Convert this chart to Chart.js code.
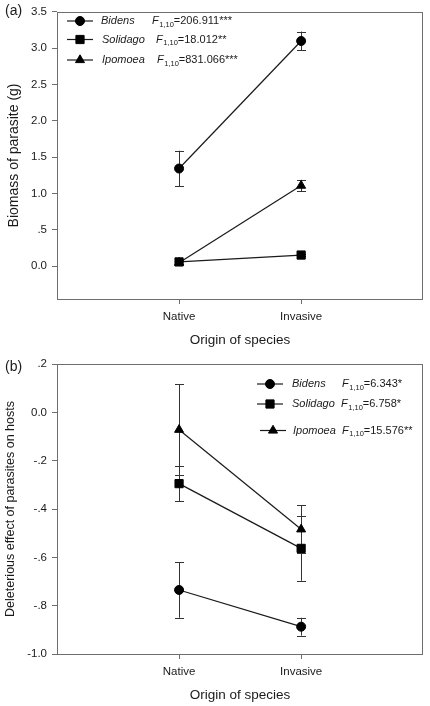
<!DOCTYPE html>
<html>
<head>
<meta charset="utf-8">
<title>Parasite biomass and deleterious effect by origin of species</title>
<script src="https://cdn.jsdelivr.net/npm/chart.js@4"></script>
<style>
    html, body { margin: 0; padding: 0; background: #fff; }
    .panel { position: absolute; left: 0; width: 430px; }
    #panelA { top: 0; height: 350px; }
    #panelB { top: 350px; height: 356px; }
</style>
</head>
<body>
<div class="panel" id="panelA"><canvas id="chartA"></canvas></div>
<div class="panel" id="panelB"><canvas id="chartB"></canvas></div>
<script>
/**
 * Two panels: (a) parasite biomass, (b) deleterious effect on hosts
 */

// categories (x axis)
const categories = ['Native', 'Invasive'];
const speciesNames = ['Bidens', 'Solidago', 'Ipomoea'];
const speciesStyles = ['circle', 'rect', 'triangle'];
const speciesRadius = [4.5, 5.8, 5.2];

// panel (a) - biomass of parasite (g), mean and SE
const biomassBidens = [1.345, 3.10];
const biomassBidensSE = [0.245, 0.13];
const biomassSolidago = [0.06, 0.155];
const biomassSolidagoSE = [0.03, 0.02];
const biomassIpomoea = [0.05, 1.11];
const biomassIpomoeaSE = [0.02, 0.08];
const fStatsA = ['206.911***', '18.012**', '831.066***'];
const yTicksA = [0, 0.5, 1.0, 1.5, 2.0, 2.5, 3.0, 3.5];
const yTickLabelsA = ['0.0', '.5', '1.0', '1.5', '2.0', '2.5', '3.0', '3.5'];

// panel (b) - deleterious effect of parasites on hosts, mean and SE
const effectBidens = [-0.735, -0.887];
const effectBidensSE = [0.115, 0.037];
const effectSolidago = [-0.295, -0.563];
const effectSolidagoSE = [0.072, 0.134];
const effectIpomoea = [-0.072, -0.484];
const effectIpomoeaSE = [0.188, 0.10];
const fStatsB = ['6.343*', '6.758*', '15.576**'];
const yTicksB = [-1.0, -0.8, -0.6, -0.4, -0.2, 0.0, 0.2];
const yTickLabelsB = ['-1.0', '-.8', '-.6', '-.4', '-.2', '0.0', '.2'];

const FONT = "'Liberation Sans', Arial, Helvetica, sans-serif";
const INK = '#1a1a1a';
const FRAME = '#6e6e6e';

/**
 * Build one dataset (category positions 1 and 2 on a linear x axis)
 */
function makeDataset(idx, means, errors) {
    return {
        label: speciesNames[idx],
        data: means.map((v, i) => ({ x: i + 1, y: v })),
        errors,
        showLine: true,
        borderColor: INK,
        borderWidth: 1.2,
        pointStyle: speciesStyles[idx],
        pointRadius: speciesRadius[idx],
        pointBackgroundColor: '#000',
        pointBorderColor: '#000',
        pointBorderWidth: 1
    };
}

/**
 * Error bars with caps, drawn under the markers
 */
const errorBarPlugin = {
    id: 'errorBars',
    beforeDatasetsDraw(chart) {
        const ctx = chart.ctx;
        const yScale = chart.scales.y;
        ctx.save();
        ctx.strokeStyle = '#333';
        ctx.lineWidth = 1;
        chart.data.datasets.forEach((ds, di) => {
            const meta = chart.getDatasetMeta(di);
            meta.data.forEach((pt, i) => {
                const mean = ds.data[i].y;
                const err = ds.errors[i];
                const top = yScale.getPixelForValue(mean + err);
                const bot = yScale.getPixelForValue(mean - err);
                const x = Math.round(pt.x) + 0.5;
                ctx.beginPath();
                ctx.moveTo(x, top);
                ctx.lineTo(x, bot);
                ctx.moveTo(x - 4.5, Math.round(top) + 0.5);
                ctx.lineTo(x + 4.5, Math.round(top) + 0.5);
                ctx.moveTo(x - 4.5, Math.round(bot) + 0.5);
                ctx.lineTo(x + 4.5, Math.round(bot) + 0.5);
                ctx.stroke();
            });
        });
        ctx.restore();
    }
};

/**
 * Grey box round the plot area, panel letter and the legend with F statistics
 */
const decorPlugin = {
    id: 'decor',
    afterDraw(chart, args, opts) {
        const ctx = chart.ctx;
        const area = chart.chartArea;
        ctx.save();
        ctx.strokeStyle = FRAME;
        ctx.lineWidth = 1;
        ctx.strokeRect(Math.round(area.left) + 0.5, Math.round(area.top) + 0.5,
            Math.round(area.right - area.left) - 1, Math.round(area.bottom - area.top));

        // panel letter
        ctx.fillStyle = INK;
        ctx.textBaseline = 'middle';
        ctx.font = `14px ${FONT}`;
        ctx.fillText(opts.letter, 5, opts.letterY);

        // legend rows
        opts.rows.forEach((row, i) => {
            ctx.strokeStyle = INK;
            ctx.lineWidth = 1.2;
            ctx.beginPath();
            ctx.moveTo(row.x0, row.y);
            ctx.lineTo(row.x1, row.y);
            ctx.stroke();
            ctx.fillStyle = '#000';
            ctx.strokeStyle = '#000';
            ctx.lineWidth = 1;
            Chart.helpers.drawPoint(ctx, {
                pointStyle: speciesStyles[i],
                radius: speciesRadius[i],
                rotation: 0,
                borderWidth: 1
            }, row.mx, row.y);

            ctx.fillStyle = INK;
            ctx.font = `italic 11px ${FONT}`;
            ctx.fillText(speciesNames[i], row.nameX, row.y);

            let x = row.fX;
            ctx.fillText('F', x, row.y);
            x += ctx.measureText('F').width + 0.5;
            ctx.font = `7.5px ${FONT}`;
            ctx.fillText('1,10', x, row.y + 3.5);
            x += ctx.measureText('1,10').width;
            ctx.font = `11px ${FONT}`;
            ctx.fillText('=' + opts.stats[i], x, row.y);
        });
        ctx.restore();
    }
};

/**
 * Shared chart options
 */
function makeOptions(cfg) {
    return {
        responsive: true,
        maintainAspectRatio: false,
        devicePixelRatio: 1,
        animation: false,
        layout: { padding: cfg.padding },
        plugins: {
            legend: { display: false },
            tooltip: { enabled: false },
            decor: cfg.decor
        },
        scales: {
            x: {
                type: 'linear',
                min: 0,
                max: 3,
                afterBuildTicks: (scale) => { scale.ticks = [{ value: 1 }, { value: 2 }]; },
                afterFit: (scale) => { scale.height = cfg.xHeight; },
                border: { display: false },
                grid: { drawOnChartArea: false, drawTicks: true, tickLength: 5, color: FRAME },
                ticks: {
                    autoSkip: false,
                    maxRotation: 0,
                    padding: 6,
                    color: INK,
                    font: { family: FONT, size: 11.5 },
                    callback: (v) => categories[v - 1]
                },
                title: {
                    display: true,
                    text: 'Origin of species',
                    color: INK,
                    font: { family: FONT, size: 13.5 },
                    padding: { top: 0, bottom: cfg.xTitlePad }
                }
            },
            y: {
                min: cfg.yMin,
                max: cfg.yMax,
                afterBuildTicks: (scale) => { scale.ticks = cfg.yTicks.map(v => ({ value: v })); },
                afterFit: (scale) => { scale.width = 57; },
                border: { display: false },
                grid: { drawOnChartArea: false, drawTicks: true, tickLength: 5, color: FRAME },
                ticks: {
                    autoSkip: false,
                    padding: 5,
                    color: INK,
                    font: { family: FONT, size: 11.5 },
                    callback: (v, i) => cfg.yLabels[i]
                },
                title: {
                    display: true,
                    text: cfg.yTitle,
                    color: INK,
                    font: { family: FONT, size: cfg.yTitleSize },
                    padding: { top: cfg.yTitlePad, bottom: 0 }
                }
            }
        }
    };
}

function init() {
    new Chart(document.getElementById('chartA'), {
        type: 'scatter',
        data: {
            datasets: [
                makeDataset(0, biomassBidens, biomassBidensSE),
                makeDataset(1, biomassSolidago, biomassSolidagoSE),
                makeDataset(2, biomassIpomoea, biomassIpomoeaSE)
            ]
        },
        options: makeOptions({
            padding: { left: 0, top: 9, right: 5, bottom: 0 },
            xHeight: 51,
            xTitlePad: 1.6,
            yMin: -0.45,
            yMax: 3.5,
            yTicks: yTicksA,
            yLabels: yTickLabelsA,
            yTitle: 'Biomass of parasite (g)',
            yTitleSize: 14,
            yTitlePad: 6,
            decor: {
                letter: '(a)',
                letterY: 11,
                stats: fStatsA,
                rows: [
                    { x0: 67, x1: 93, mx: 80, y: 21, nameX: 101, fX: 152 },
                    { x0: 67, x1: 93, mx: 80, y: 39.5, nameX: 102, fX: 156 },
                    { x0: 67, x1: 93, mx: 80, y: 60, nameX: 102, fX: 157 }
                ]
            }
        }),
        plugins: [errorBarPlugin, decorPlugin]
    });

    new Chart(document.getElementById('chartB'), {
        type: 'scatter',
        data: {
            datasets: [
                makeDataset(0, effectBidens, effectBidensSE),
                makeDataset(1, effectSolidago, effectSolidagoSE),
                makeDataset(2, effectIpomoea, effectIpomoeaSE)
            ]
        },
        options: makeOptions({
            padding: { left: 0, top: 14, right: 4, bottom: 0 },
            xHeight: 52,
            xTitlePad: 2.6,
            yMin: -1.0,
            yMax: 0.2,
            yTicks: yTicksB,
            yLabels: yTickLabelsB,
            yTitle: 'Deleterious effect of parasites on hosts',
            yTitleSize: 12.5,
            yTitlePad: 3.5,
            decor: {
                letter: '(b)',
                letterY: 17,
                stats: fStatsB,
                rows: [
                    { x0: 257, x1: 283, mx: 270, y: 34, nameX: 292, fX: 342 },
                    { x0: 257, x1: 283, mx: 270, y: 54, nameX: 292, fX: 341 },
                    { x0: 260, x1: 286, mx: 273, y: 80.5, nameX: 293, fX: 342 }
                ]
            }
        }),
        plugins: [errorBarPlugin, decorPlugin]
    });
}

document.addEventListener('DOMContentLoaded', init);
</script>
</body>
</html>
